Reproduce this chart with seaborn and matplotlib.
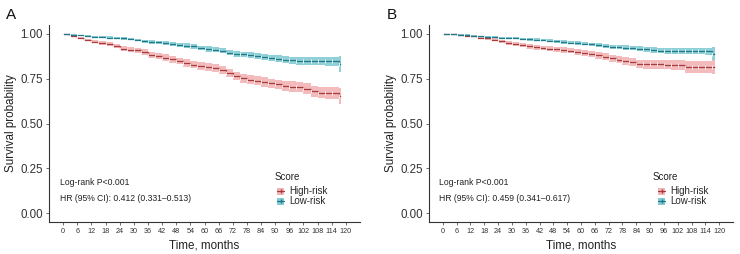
import numpy as np
import pandas as pd
import matplotlib
matplotlib.use("Agg")
import matplotlib.pyplot as plt
import seaborn as sns
from matplotlib.patches import Patch
from matplotlib.lines import Line2D

# ---------------- data ----------------
times = [0, 3, 6, 9, 12, 15, 18, 21, 24, 27, 30, 33, 36, 39, 42, 45, 48, 51, 54, 57,
         60, 63, 66, 69, 72, 75, 78, 81, 84, 87, 90, 93, 96, 99, 102, 105, 108, 111,
         114, 117, 118]

a_high = [1.000, 0.990, 0.978, 0.966, 0.956, 0.950, 0.944, 0.932, 0.918, 0.913,
          0.908, 0.898, 0.884, 0.875, 0.868, 0.858, 0.849, 0.838, 0.828, 0.820,
          0.815, 0.808, 0.797, 0.782, 0.765, 0.752, 0.745, 0.740, 0.732, 0.724,
          0.718, 0.712, 0.706, 0.704, 0.695, 0.680, 0.672, 0.672, 0.672, 0.655, 0.655]
a_low = [1.000, 0.996, 0.992, 0.988, 0.985, 0.982, 0.980, 0.978, 0.976, 0.972,
         0.966, 0.960, 0.955, 0.953, 0.950, 0.944, 0.938, 0.935, 0.930, 0.922,
         0.916, 0.912, 0.906, 0.896, 0.890, 0.886, 0.880, 0.876, 0.872, 0.866,
         0.862, 0.856, 0.852, 0.849, 0.848, 0.848, 0.848, 0.848, 0.848, 0.832, 0.832]
b_high = [1.000, 0.997, 0.994, 0.991, 0.987, 0.980, 0.975, 0.968, 0.958, 0.950,
          0.943, 0.937, 0.930, 0.926, 0.922, 0.918, 0.914, 0.911, 0.907, 0.900,
          0.893, 0.887, 0.880, 0.872, 0.864, 0.856, 0.850, 0.844, 0.832, 0.831,
          0.830, 0.830, 0.829, 0.828, 0.828, 0.816, 0.815, 0.815, 0.815, 0.815, 0.815]
b_low = [1.000, 0.998, 0.996, 0.994, 0.991, 0.987, 0.984, 0.982, 0.980, 0.978,
         0.976, 0.973, 0.970, 0.968, 0.966, 0.962, 0.958, 0.955, 0.952, 0.949,
         0.946, 0.942, 0.938, 0.934, 0.929, 0.926, 0.924, 0.921, 0.918, 0.915,
         0.911, 0.907, 0.905, 0.905, 0.904, 0.904, 0.904, 0.904, 0.904, 0.889, 0.889]

# 95% CI half-widths
a_high_hw = [0, 0.004, 0.006, 0.008, 0.009, 0.010, 0.011, 0.012, 0.013, 0.014,
             0.015, 0.016, 0.017, 0.017, 0.018, 0.019, 0.019, 0.020, 0.020, 0.021,
             0.022, 0.022, 0.023, 0.024, 0.024, 0.025, 0.025, 0.026, 0.026, 0.027,
             0.027, 0.028, 0.029, 0.029, 0.030, 0.031, 0.032, 0.033, 0.034, 0.045, 0.045]
a_low_hw = [0, 0.002, 0.003, 0.004, 0.005, 0.005, 0.006, 0.006, 0.007, 0.007,
            0.008, 0.009, 0.009, 0.010, 0.010, 0.011, 0.011, 0.012, 0.012, 0.013,
            0.014, 0.014, 0.015, 0.015, 0.016, 0.016, 0.017, 0.017, 0.018, 0.018,
            0.019, 0.020, 0.020, 0.021, 0.022, 0.023, 0.024, 0.025, 0.026, 0.045, 0.045]
b_high_hw = [0, 0.002, 0.003, 0.004, 0.005, 0.006, 0.007, 0.008, 0.009, 0.010,
             0.011, 0.011, 0.012, 0.013, 0.013, 0.014, 0.014, 0.015, 0.016, 0.016,
             0.017, 0.017, 0.018, 0.019, 0.020, 0.020, 0.021, 0.022, 0.023, 0.024,
             0.024, 0.025, 0.026, 0.027, 0.028, 0.032, 0.033, 0.034, 0.035, 0.040, 0.040]
b_low_hw = [0, 0.001, 0.002, 0.003, 0.003, 0.004, 0.004, 0.005, 0.005, 0.006,
            0.006, 0.006, 0.007, 0.007, 0.008, 0.008, 0.008, 0.009, 0.009, 0.010,
            0.010, 0.010, 0.011, 0.011, 0.012, 0.012, 0.013, 0.013, 0.014, 0.014,
            0.015, 0.015, 0.016, 0.016, 0.017, 0.017, 0.018, 0.018, 0.019, 0.036, 0.036]

groups = ["High-risk", "Low-risk"]
panel_labels = ["A", "B"]
pvals = ["Log-rank P<0.001", "Log-rank P<0.001"]
hrs = ["HR (95% CI): 0.412 (0.331\u20130.513)", "HR (95% CI): 0.459 (0.341\u20130.617)"]
xticks = [0, 6, 12, 18, 24, 30, 36, 42, 48, 54, 60, 66, 72, 78, 84, 90, 96, 102, 108, 114, 120]
yticks = [0.00, 0.25, 0.50, 0.75, 1.00]

panels = [
    {"High-risk": (a_high, a_high_hw), "Low-risk": (a_low, a_low_hw)},
    {"High-risk": (b_high, b_high_hw), "Low-risk": (b_low, b_low_hw)},
]

line_colors = {"High-risk": "#A83A3C", "Low-risk": "#1E7A88"}
band_colors = {"High-risk": "#F3B4B5", "Low-risk": "#84CBD4"}

# ---------------- style ----------------
sns.set_theme(style="white")
plt.rcParams["font.family"] = ["Liberation Sans", "DejaVu Sans"]

fig = plt.figure(figsize=(7.4, 2.54), dpi=100)
W, H = 740, 254
axes_px = [(49, 360), (429, 733)]
top_px, bot_px = 25, 222
legend_x = [(275, 277), (653, 658)]

for i, (data, (l, r)) in enumerate(zip(panels, axes_px)):
    ax = fig.add_axes([l / W, 1 - bot_px / H, (r - l) / W, (bot_px - top_px) / H])
    rows = []
    for g in groups:
        s, hw = data[g]
        for t, v in zip(times, s):
            rows.append({"time": t, "surv": v, "Score": g})
        lo = np.array(s) - np.array(hw)
        hi = np.minimum(np.array(s) + np.array(hw), 1.0)
        ax.fill_between(times, lo, hi, step="post", color=band_colors[g],
                        alpha=0.9, linewidth=0, zorder=1)
    df = pd.DataFrame(rows)
    sns.lineplot(data=df, x="time", y="surv", hue="Score", palette=line_colors,
                 drawstyle="steps-post", marker="|", markersize=2.2,
                 markeredgewidth=0.6, linewidth=0.9, estimator=None,
                 errorbar=None, legend=False, ax=ax, zorder=3)

    ax.set_xlim(-6, 126)
    ax.set_ylim(-0.05, 1.05)
    ax.set_xticks(xticks)
    ax.set_xticklabels([str(x) for x in xticks], fontsize=5.2, color="#333333")
    ax.set_yticks(yticks)
    ax.set_yticklabels([f"{y:.2f}" for y in yticks], fontsize=8.3, color="#333333")
    ax.tick_params(axis="both", length=2.5, width=0.6, color="#555555", pad=2,
                   bottom=True, left=True)
    ax.set_xlabel("Time, months", fontsize=8.4, color="#222222", labelpad=3)
    ax.set_ylabel("Survival probability", fontsize=8.4, color="#222222", labelpad=2)
    for sp in ["top", "right"]:
        ax.spines[sp].set_visible(False)
    for sp in ["left", "bottom"]:
        ax.spines[sp].set_color("#333333")
        ax.spines[sp].set_linewidth(0.8)
    ax.grid(False)

    ax.text(-1.5, 0.168, pvals[i], fontsize=6.2, va="center", ha="left", color="#222222")
    ax.text(-1.5, 0.084, hrs[i], fontsize=6.2, va="center", ha="left", color="#222222")

    # legend
    w_ax = r - l
    sx, mx = legend_x[i]
    ax.text((sx - l) / w_ax, (bot_px - 177) / (bot_px - top_px), "Score",
            transform=ax.transAxes, fontsize=7, va="center", ha="left",
            color="#222222")
    handles = [(Patch(facecolor=band_colors[g], edgecolor="none"),
                Line2D([], [], color=line_colors[g], marker="|", markersize=2.5,
                       linewidth=0.9)) for g in groups]
    ax.legend(handles, groups, loc="center left",
              bbox_to_anchor=((mx - l) / w_ax, (bot_px - 196.5) / (bot_px - top_px)),
              frameon=False, fontsize=7,
              handlelength=0.75, handleheight=0.7, handletextpad=0.5,
              labelspacing=0.0, borderpad=0, borderaxespad=0)

    fig.text((6 if i == 0 else 387) / W, 1 - 19 / H, panel_labels[i],
             fontsize=11, ha="left", va="baseline", color="#111111")

fig.savefig("out.png", dpi=100)
